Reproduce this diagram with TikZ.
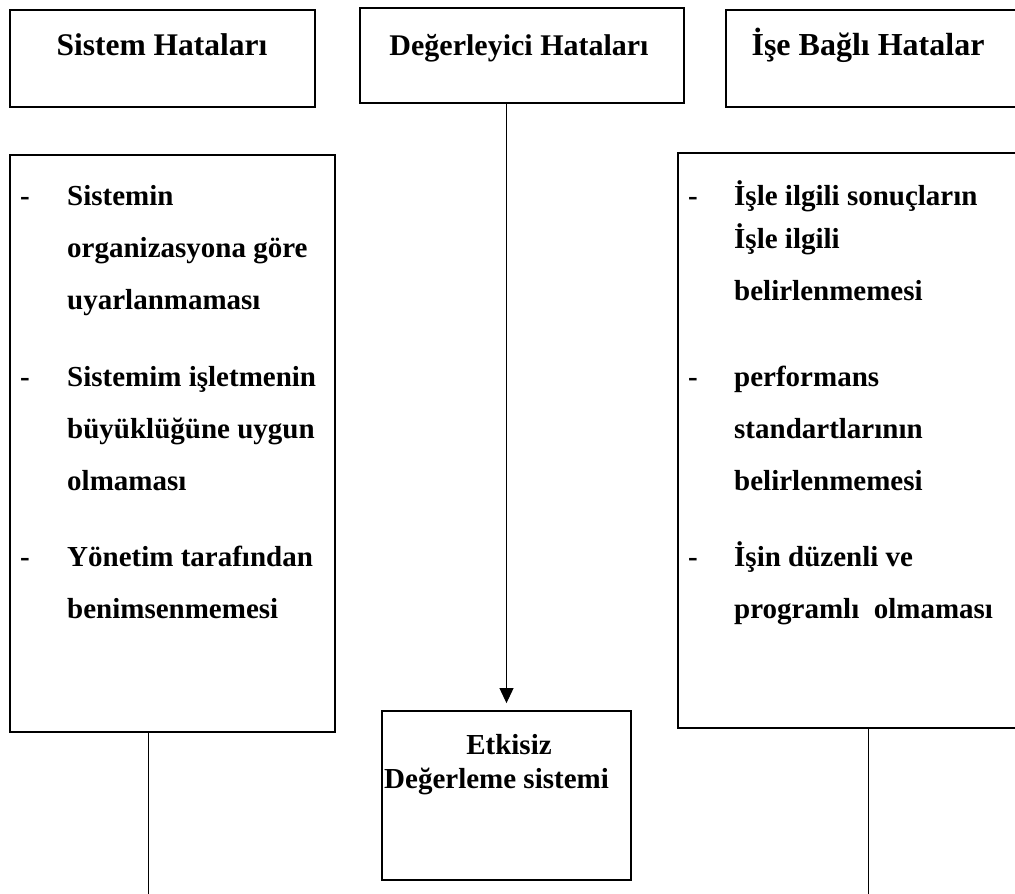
\documentclass[tikz,border=0pt]{standalone}
\usepackage{fontspec}
\setmainfont{Liberation Serif}
\usetikzlibrary{arrows.meta}
\begin{document}
\begin{tikzpicture}[x=1pt,y=-1pt,
  box/.style={draw, line width=1.8pt, inner sep=0pt},
  conn/.style={line width=1pt},
  item/.style={anchor=base west, inner sep=0pt, font=\fontsize{29}{29}\selectfont\bfseries},
  ttl/.style={anchor=base, inner sep=0pt, font=\bfseries}]
\useasboundingbox (0,0) rectangle (1015,894);
% top boxes
\node[box, minimum width=305pt, minimum height=97pt] (A) at (162.5,58.5) {};
\node[box, minimum width=324pt, minimum height=95pt] (B) at (522,55.5) {};
\node[box, minimum width=300pt, minimum height=97pt] (C) at (876,58.5) {};
\node[ttl, font=\fontsize{31.5}{31.5}\selectfont\bfseries] (At) at (162,55) {Sistem Hataları};
\node[ttl, font=\fontsize{30}{30}\selectfont\bfseries] (Bt) at (519,55) {Değerleyici Hataları};
\node[ttl, font=\fontsize{32}{32}\selectfont\bfseries] (Ct) at (868,55) {İşe Bağlı Hatalar};
% list boxes
\node[box, minimum width=325pt, minimum height=577pt] (D) at (172.5,443.5) {};
\node[box, minimum width=342pt, minimum height=575pt] (E) at (849,440.5) {};
% left list
\node[item] (d1) at (20,205) {-};
\node[item] (l1) at (67,205) {Sistemin};
\node[item] (l2) at (67,257) {organizasyona göre};
\node[item] (l3) at (67,309) {uyarlanmaması};
\node[item] (d2) at (20,386) {-};
\node[item] (l4) at (67,386) {Sistemim işletmenin};
\node[item] (l5) at (67,438) {büyüklüğüne uygun};
\node[item] (l6) at (67,490) {olmaması};
\node[item] (d3) at (20,566) {-};
\node[item] (l7) at (67,566) {Yönetim tarafından};
\node[item] (l8) at (67,618) {benimsenmemesi};
% right list
\node[item] (e1) at (688,205) {-};
\node[item] (r1) at (734,205) {İşle ilgili sonuçların};
\node[item] (r2) at (734,248) {İşle ilgili};
\node[item] (r3) at (734,300) {belirlenmemesi};
\node[item] (e2) at (688,386) {-};
\node[item] (r4) at (734,386) {performans};
\node[item] (r5) at (734,438) {standartlarının};
\node[item] (r6) at (734,490) {belirlenmemesi};
\node[item] (e3) at (688,566) {-};
\node[item] (r7) at (734,566) {İşin düzenli ve};
\node[item] (r8) at (734,618) {programlı~ olmaması};
% bottom box
\node[box, minimum width=249pt, minimum height=169pt] (F) at (506.5,795.5) {};
\node[item, anchor=base] (f1) at (509,754) {Etkisiz};
\node[item, anchor=base west] (f2) at (384,788) {Değerleme sistemi};
% connectors
\coordinate (dEnd) at (148,894);
\coordinate (eEnd) at (868,894);
\draw[conn, -{Triangle[length=15pt,width=14pt]}, shorten >=7pt] (B.south -| F.north) -- (F.north);
\draw[conn] (D.south -| dEnd) -- (dEnd);
\draw[conn] (E.south -| eEnd) -- (eEnd);
\end{tikzpicture}
\end{document}
